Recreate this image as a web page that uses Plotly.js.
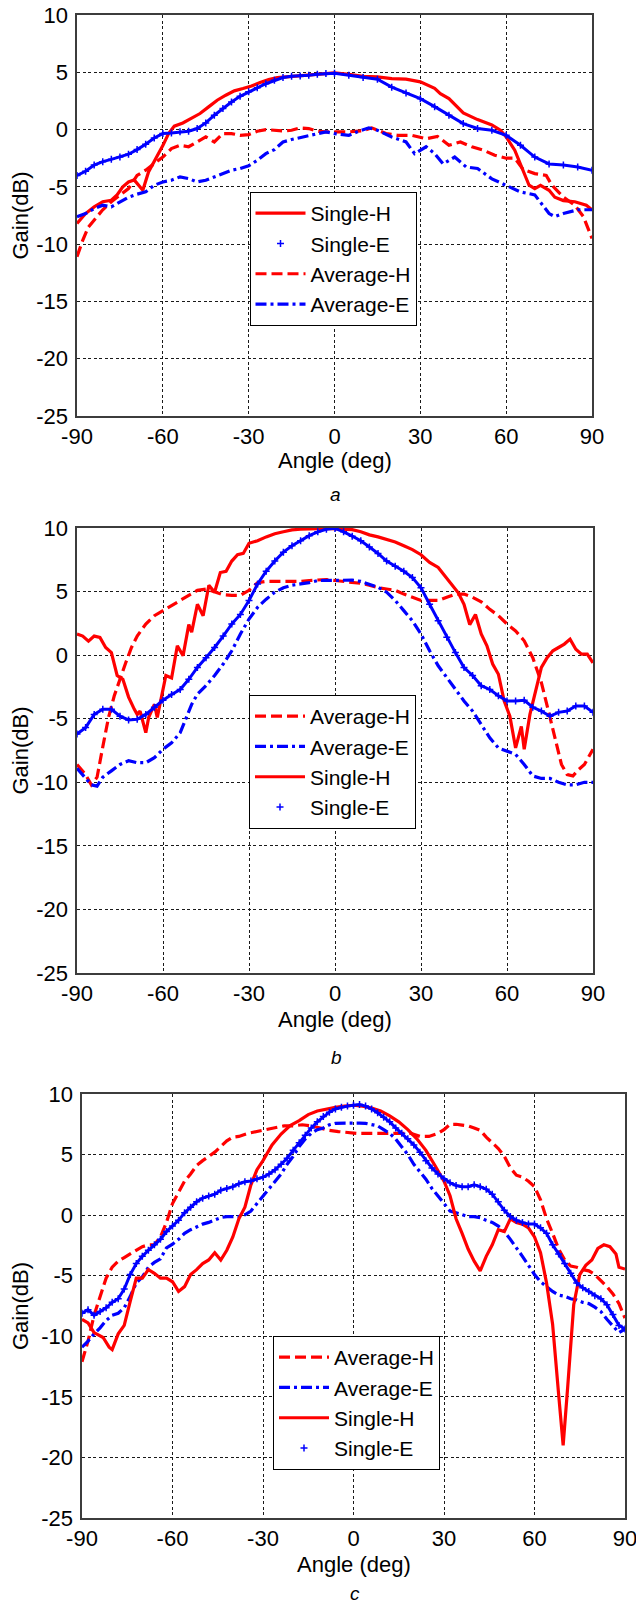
<!DOCTYPE html>
<html>
<head>
<meta charset="utf-8">
<script src="https://cdn.plot.ly/plotly-3.0.1.min.js"></script>
<style>
  html, body { margin: 0; padding: 0; background: #fff; }
  #chart { width: 636px; height: 1605px; }
</style>
</head>
<body>
<div id="chart"></div>
<script>
// ---------- ticks ----------
const X_TICKS = [-90, -60, -30, 0, 30, 60, 90];
const Y_TICKS = [-25, -20, -15, -10, -5, 0, 5, 10];
const PANEL_LABELS = ['a', 'b', 'c'];
const SERIES_NAMES = ['Single-H', 'Single-E', 'Average-H', 'Average-E'];

// ---------- panel a ----------
const a_SH_x = [-90,-87,-84,-81,-78,-76,-74,-72,-70,-67,-65,-63,-60,-58,-56,-53,-50,-47,-44,-41,-38,-35,-32,-29,-26,-23,-20,-17,-14,-11,-8,-5,-2,0,5,10,15,20,25,30,35,37,40,45,50,55,58,60,63,66,68,70,72,75,77,80,84,88,90];
const a_SH_y = [-8.2,-7.33,-6.75,-6.3,-6.17,-5.7,-5.0,-4.57,-4.4,-5.3,-3.7,-2.8,-1.4,-0.35,0.3,0.58,0.96,1.4,1.98,2.56,3.0,3.38,3.58,3.8,4.1,4.36,4.54,4.6,4.65,4.7,4.77,4.83,4.9,4.95,4.83,4.65,4.6,4.45,4.4,4.16,3.6,3.14,2.7,1.45,0.87,0.4,-0.05,-0.64,-1.8,-3.55,-4.86,-5.15,-4.86,-5.3,-5.9,-6.2,-6.3,-6.6,-7.0];
const a_SE_x = [-90,-87,-84,-81,-78,-75,-72,-69,-66,-63,-60,-57,-54,-51,-48,-45,-42,-39,-36,-33,-30,-27,-24,-21,-18,-15,-12,-9,-6,-3,0,5,10,15,20,25,30,35,40,45,50,55,60,65,70,75,80,85,90];
const a_SE_y = [-4.0,-3.64,-3.1,-2.8,-2.6,-2.4,-2.15,-1.75,-1.28,-0.73,-0.35,-0.3,-0.2,-0.15,0.09,0.58,1.25,1.83,2.4,2.9,3.3,3.64,4.0,4.3,4.54,4.65,4.68,4.74,4.83,4.9,4.92,4.74,4.54,4.4,3.7,3.2,2.7,2.0,1.25,0.52,0.09,-0.06,-0.5,-1.37,-2.4,-3.0,-3.1,-3.26,-3.55];
const a_AH_x = [-90,-88,-86,-84,-81,-78,-75,-72,-69,-66,-63,-60,-57,-54,-51,-48,-45,-42,-39,-36,-33,-30,-27,-24,-21,-18,-15,-12,-9,-6,-3,0,5,10,13,18,22,27,32,36,40,44,48,52,56,60,63,66,70,74,76,80,84,87,90];
const a_AH_y = [-11.1,-9.66,-8.5,-7.9,-7.0,-6.3,-5.7,-5.15,-4.0,-3.55,-2.97,-2.4,-1.66,-1.37,-1.5,-1.08,-0.64,-1.08,-0.35,-0.35,-0.5,-0.44,-0.15,0,-0.06,-0.12,-0.06,0.15,0.09,-0.15,-0.2,-0.2,-0.2,-0.1,0.15,-0.35,-0.5,-0.5,-0.8,-0.6,-1.37,-1.08,-1.5,-1.8,-2.24,-2.5,-2.5,-3.5,-3.84,-4.0,-4.86,-5.9,-6.6,-7.6,-9.5];
const a_AE_x = [-90,-87,-84,-81,-78,-75,-72,-69,-66,-63,-60,-57,-54,-51,-48,-45,-42,-39,-36,-33,-30,-27,-24,-21,-18,-15,-12,-9,-6,-3,0,5,8,12,15,20,25,28,32,35,38,42,46,50,55,60,65,70,75,77,80,85,90];
const a_AE_y = [-7.6,-7.33,-6.9,-6.6,-6.75,-6.3,-5.9,-5.64,-5.44,-4.86,-4.57,-4.42,-4.13,-4.28,-4.57,-4.42,-4.13,-3.9,-3.55,-3.4,-3.17,-2.68,-2.1,-1.75,-1.08,-0.87,-0.7,-0.58,-0.35,-0.2,-0.35,-0.5,-0.2,0.15,-0.06,-0.64,-1.08,-2.1,-1.5,-2.1,-3.0,-2.4,-3.26,-3.4,-4.3,-4.86,-5.44,-5.7,-7.33,-7.6,-7.33,-7.0,-7.0];

// ---------- panel b ----------
const b_SH_x = [-90,-88,-86,-84,-82,-80,-78,-76,-74,-72,-70,-69,-68,-66,-65,-63,-62,-59,-57,-55,-53,-51,-50,-48,-46,-44,-42,-40,-38,-36,-34,-32,-30,-27,-24,-21,-18,-15,-12,-9,-6,-3,0,3,6,9,12,15,18,21,24,27,30,33,36,39,41,43,45,47,49,51,53,55,57,59,61,63,65,66,68,70,72,74,76,78,80,82,84,86,88,90];
const b_SH_y = [1.66,1.5,1.1,1.5,1.4,0.6,0.2,-1.6,-1.9,-3.3,-4.26,-4.66,-4.4,-6.1,-4.9,-3.87,-4.9,-1.6,-1.8,0.74,-0.05,2.4,1.8,4.0,3.1,5.5,4.95,6.5,6.6,7.4,7.9,8.0,8.8,9.0,9.3,9.55,9.7,9.85,9.9,9.95,9.95,9.97,9.95,9.9,9.87,9.7,9.46,9.3,9.1,8.9,8.6,8.3,7.9,7.3,6.9,6.0,5.5,4.9,4.0,2.4,3.2,1.66,0.74,-0.7,-1.5,-3.6,-4.8,-7.3,-5.6,-7.4,-4.66,-2.8,-0.97,-0.2,0.34,0.6,0.87,1.26,0.47,0.08,0.08,-0.6];
const b_SE_x = [-90,-87,-84,-81,-78,-75,-72,-69,-66,-63,-60,-57,-54,-51,-48,-45,-42,-39,-36,-33,-30,-27,-24,-21,-18,-15,-12,-9,-6,-3,0,3,6,9,12,15,18,21,24,27,30,33,36,39,42,45,48,51,54,57,60,63,66,69,72,75,78,81,84,87,90];
const b_SE_y = [-6.2,-5.7,-4.66,-4.26,-4.26,-4.8,-5.1,-5.05,-4.66,-4.1,-3.55,-3.1,-2.7,-1.9,-0.97,-0.2,0.6,1.5,2.45,3.2,4.3,5.6,6.6,7.4,8.1,8.6,9.0,9.4,9.7,9.9,9.97,9.7,9.36,9.0,8.5,8.0,7.4,7.0,6.6,6.1,5.3,4.0,2.7,1.4,0.2,-0.97,-1.6,-2.4,-2.7,-3.2,-3.6,-3.6,-3.55,-4.1,-4.4,-4.8,-4.5,-4.4,-4.0,-4.0,-4.5];
const b_AH_x = [-90,-87,-85,-83,-81,-79,-77,-75,-73,-71,-69,-66,-63,-60,-57,-54,-51,-48,-45,-42,-39,-36,-33,-30,-27,-24,-21,-18,-15,-12,-9,-6,-3,0,3,6,9,12,15,18,21,24,27,30,33,36,39,42,45,48,51,54,57,60,63,66,69,72,75,77,79,81,83,85,87,90];
const b_AH_y = [-8.6,-9.4,-10.2,-9.6,-7.2,-4.9,-3.2,-1.8,-0.6,0.6,1.5,2.45,3.1,3.5,3.9,4.3,4.7,5.1,5.2,4.95,4.75,4.7,4.7,5.1,5.7,5.8,5.8,5.8,5.8,5.8,5.87,5.9,5.95,5.87,5.8,5.7,5.65,5.5,5.3,5.2,5.1,4.8,4.55,4.3,4.3,4.3,4.55,4.8,4.8,4.55,4.2,3.6,3.1,2.45,1.9,1.13,-0.2,-2.16,-4.9,-6.76,-8.6,-9.4,-9.5,-9.0,-8.6,-7.4];
const b_AE_x = [-90,-87,-85,-83,-81,-78,-75,-72,-69,-66,-63,-60,-57,-54,-52,-50,-48,-45,-42,-39,-36,-33,-30,-27,-24,-21,-18,-15,-12,-9,-6,-3,0,3,6,9,12,15,18,21,24,27,30,33,36,39,42,45,48,51,54,57,60,63,66,69,72,75,78,81,84,87,90];
const b_AE_y = [-8.9,-9.7,-10.2,-10.3,-9.6,-9.1,-8.6,-8.3,-8.46,-8.46,-8.07,-7.4,-6.9,-6.1,-4.9,-3.87,-3.07,-2.4,-1.6,-0.7,0.34,1.66,2.84,3.76,4.4,4.95,5.3,5.5,5.6,5.7,5.87,5.87,5.87,5.87,5.9,5.8,5.6,5.34,4.95,4.3,3.5,2.7,1.66,0.34,-0.84,-1.76,-2.68,-3.6,-4.4,-5.4,-6.5,-7.3,-7.55,-7.8,-8.6,-9.5,-9.7,-9.7,-10.0,-10.2,-10.2,-10.0,-10.0];

// ---------- panel c ----------
const c_SH_x = [-90,-88,-86,-83,-81,-80,-78,-76,-74,-72,-70,-68,-66,-64,-62,-60,-58,-56,-54,-52,-50,-48,-46,-44,-42,-40,-38,-36,-34,-32,-30,-27,-24,-21,-18,-15,-12,-9,-6,-3,0,3,6,9,12,15,18,21,24,27,30,32,34,36,38,40,42,44,46,48,50,52,54,56,58,60,62,64,66,68,69.5,71,72,73,75,77,79,81,83,85,87,88,90];
const c_SH_y = [-8.6,-8.9,-9.7,-10.1,-10.9,-11.1,-9.8,-9.1,-7.1,-5.2,-5.2,-4.5,-4.8,-5.2,-5.2,-5.5,-6.3,-5.9,-4.9,-4.5,-4.0,-3.7,-3.1,-3.7,-2.9,-1.8,-0.3,0.65,2.5,3.75,4.5,5.8,6.7,7.4,7.8,8.3,8.6,8.76,8.9,9.0,9.07,9.0,8.85,8.6,8.2,7.7,7.06,6.3,5.35,4.1,2.8,1.6,-0.3,-1.5,-2.8,-3.8,-4.6,-3.4,-2.45,-1.2,-1.36,-0.3,-0.6,-0.75,-1.05,-1.8,-3.1,-5.6,-9.0,-14.8,-19.0,-14.2,-10.8,-7.4,-4.9,-4.15,-3.7,-2.75,-2.45,-2.6,-3.2,-4.3,-4.45];
const c_SE_x = [-90,-88,-86,-84,-82,-80,-78,-76,-74,-72,-70,-68,-66,-64,-62,-60,-58,-56,-54,-52,-50,-48,-46,-44,-42,-40,-38,-36,-34,-32,-30,-28,-26,-24,-22,-20,-18,-16,-14,-12,-10,-8,-6,-4,-2,0,2,4,6,8,10,12,14,16,18,20,22,24,26,28,30,32,34,36,38,40,42,44,46,48,50,52,54,56,58,60,62,64,66,68,70,72,74,76,78,80,82,84,86,88,90];
const c_SE_y = [-8.1,-7.8,-8.27,-7.96,-7.65,-7.2,-6.9,-6.1,-4.9,-4.0,-3.4,-2.9,-2.45,-2.0,-1.36,-0.9,-0.43,0.19,0.65,1.1,1.4,1.58,1.73,2.05,2.2,2.35,2.6,2.76,2.82,3.0,3.13,3.4,3.75,4.2,4.7,5.35,5.97,6.6,7.2,7.7,8.14,8.5,8.76,8.9,9.0,9.07,9.13,9.0,8.76,8.45,8.08,7.7,7.2,6.75,6.3,5.8,5.2,4.5,3.9,3.4,3.0,2.67,2.45,2.35,2.35,2.5,2.35,2.14,1.73,1.1,0.4,-0.12,-0.43,-0.6,-0.74,-0.74,-1.05,-1.5,-2.45,-3.2,-4.0,-4.8,-5.6,-6.0,-6.3,-6.65,-6.9,-7.4,-8.2,-9.1,-9.4];
const c_AH_x = [-90,-88,-86,-84,-82,-80,-78,-76,-74,-72,-70,-68,-66,-64,-62,-60,-58,-56,-54,-52,-50,-48,-46,-44,-42,-40,-38,-35,-32,-29,-26,-23,-20,-17,-14,-11,-8,-5,-2,1,4,7,10,13,16,19,22,25,28,30,32,34,36,38,40,42,44,46,48,50,52,54,56,58,60,62,64,66,68,70,72,74,76,78,80,82,84,86,88,90];
const c_AH_y = [-12.1,-10.4,-8.27,-6.7,-5.2,-4.3,-3.8,-3.5,-3.2,-2.9,-2.6,-2.45,-2.45,-1.8,-0.6,0.96,1.9,2.8,3.4,4.1,4.5,4.85,5.2,5.66,6.13,6.44,6.5,6.75,6.9,7.06,7.2,7.37,7.37,7.46,7.37,7.2,7.0,6.9,6.8,6.75,6.75,6.75,6.75,6.75,6.8,6.75,6.5,6.5,6.75,7.06,7.5,7.5,7.43,7.37,7.2,7.0,6.44,5.97,5.5,4.85,3.9,3.3,3.13,2.8,2.35,1.27,-0.3,-1.5,-2.8,-3.7,-4.2,-4.3,-4.5,-4.6,-4.9,-5.4,-5.9,-6.5,-7.3,-8.5];
const c_AE_x = [-90,-88,-86,-84,-82,-80,-78,-76,-74,-72,-70,-68,-66,-64,-62,-60,-58,-56,-54,-52,-50,-48,-46,-44,-42,-40,-38,-36,-34,-32,-30,-28,-26,-24,-22,-20,-18,-16,-14,-12,-10,-8,-6,-4,-2,0,2,4,6,8,10,12,14,16,18,20,22,24,26,28,30,32,34,36,38,40,42,44,46,48,50,52,54,56,58,60,62,64,66,68,70,72,74,76,78,80,82,84,86,88,90];
const c_AE_y = [-10.9,-10.4,-9.8,-9.3,-8.7,-8.27,-8.1,-7.65,-6.7,-5.6,-5.1,-4.3,-3.9,-3.6,-2.7,-2.4,-2.0,-1.5,-1.2,-0.96,-0.74,-0.6,-0.37,-0.2,-0.12,-0.12,-0.12,0.03,0.34,0.96,1.58,2.2,2.8,3.4,4.2,4.85,5.66,6.28,6.75,7.06,7.2,7.46,7.58,7.6,7.6,7.6,7.6,7.58,7.5,7.37,7.06,6.75,6.28,5.66,5.0,4.2,3.6,2.97,2.2,1.58,0.96,0.34,0.19,0.03,-0.12,-0.12,-0.2,-0.43,-0.6,-0.9,-1.36,-2.0,-2.76,-3.4,-4.15,-4.9,-5.5,-5.9,-6.3,-6.6,-6.7,-6.9,-7.0,-7.2,-7.3,-7.6,-7.96,-8.6,-9.2,-9.7,-9.4];

// ---------- styling (not data) ----------
const W = 636, H = 1605;
const FONT = '"Liberation Sans", Arial, Helvetica, sans-serif';
const RED = '#ff0000', BLUE = '#0000ff';
// pixel boxes of each plot area: [left, right, top, bottom]
const BOX = [[77, 592, 15, 416], [77, 593, 528, 973], [82, 625, 1094, 1518]];
const px = x => x / W;
const py = y => 1 - y / H;

const panels = [
  { SH: [a_SH_x, a_SH_y], SE: [a_SE_x, a_SE_y], AH: [a_AH_x, a_AH_y], AE: [a_AE_x, a_AE_y],
    order: ['SH', 'SE', 'AH', 'AE'], legendBox: [249.5, 192], xt: 460, lab: 494 },
  { SH: [b_SH_x, b_SH_y], SE: [b_SE_x, b_SE_y], AH: [b_AH_x, b_AH_y], AE: [b_AE_x, b_AE_y],
    order: ['AH', 'AE', 'SH', 'SE'], legendBox: [249, 695], xt: 1019, lab: 1057 },
  { SH: [c_SH_x, c_SH_y], SE: [c_SE_x, c_SE_y], AH: [c_AH_x, c_AH_y], AE: [c_AE_x, c_AE_y],
    order: ['AH', 'AE', 'SH', 'SE'], legendBox: [273, 1336], xt: 1564, lab: 1593 }
];
const NAME = { SH: SERIES_NAMES[0], SE: SERIES_NAMES[1], AH: SERIES_NAMES[2], AE: SERIES_NAMES[3] };

const traces = [];
const layout = {
  width: W, height: H,
  margin: { l: 0, r: 0, t: 0, b: 0 },
  paper_bgcolor: '#ffffff', plot_bgcolor: '#ffffff',
  font: { family: FONT, size: 22, color: '#000' },
  annotations: [],
  showlegend: true
};

panels.forEach((p, i) => {
  const n = i === 0 ? '' : String(i + 1);
  const xa = 'x' + n, ya = 'y' + n;
  const lg = 'legend' + n;
  const [l, r, t, b] = BOX[i];
  const common = {
    showgrid: true, gridcolor: '#1a1a1a', gridwidth: 1, griddash: '3px,2.5px',
    showline: true, linecolor: '#3c3c3c', linewidth: 1.6, mirror: true,
    zeroline: false, ticks: '', tickmode: 'array', fixedrange: true,
    tickfont: { family: FONT, size: 22, color: '#000' }
  };
  layout['xaxis' + n] = Object.assign({}, common, {
    domain: [px(l), px(r)], anchor: ya, range: [-90, 90],
    tickvals: X_TICKS, ticktext: X_TICKS.map(String), ticklabelstandoff: 0,
    ticklabeloverflow: 'allow'
  });
  layout['yaxis' + n] = Object.assign({}, common, {
    domain: [py(b), py(t)], anchor: xa, range: [-25, 10],
    tickvals: Y_TICKS, ticktext: Y_TICKS.map(String), ticklabelstandoff: 3,
    ticklabeloverflow: 'allow'
  });
  layout[lg] = {
    x: px(p.legendBox[0]), y: py(p.legendBox[1]), xanchor: 'left', yanchor: 'top',
    bgcolor: '#ffffff', bordercolor: '#000', borderwidth: 1,
    font: { family: FONT, size: 21, color: '#000' },
    itemwidth: 50, traceorder: 'normal', tracegroupgap: 0
  };

  p.order.forEach(key => {
    const [xs, ys] = p[key];
    const base = { x: xs, y: ys, xaxis: xa, yaxis: ya, legend: lg, name: NAME[key], hoverinfo: 'skip' };
    if (key === 'SH') {
      traces.push(Object.assign({}, base, { mode: 'lines', line: { color: RED, width: 3.2 } }));
    } else if (key === 'AH') {
      traces.push(Object.assign({}, base, { mode: 'lines', line: { color: RED, width: 3.2, dash: '11px,5px' } }));
    } else if (key === 'AE') {
      traces.push(Object.assign({}, base, { mode: 'lines', line: { color: BLUE, width: 3.2, dash: '11px,4px,3px,4px' } }));
    } else {
      // Single-E: dense "+" markers along a line
      traces.push(Object.assign({}, base, { mode: 'lines', showlegend: false, line: { color: BLUE, width: 3 } }));
      traces.push(Object.assign({}, base, {
        mode: 'markers',
        marker: { symbol: 'cross-thin', size: 5, color: BLUE, line: { color: BLUE, width: 1.5 } }
      }));
    }
  });

  // axis titles and panel labels
  layout.annotations.push({
    xref: 'paper', yref: 'paper', x: px(20), y: py((t + b) / 2), text: 'Gain(dB)',
    textangle: -90, showarrow: false, xanchor: 'center', yanchor: 'middle',
    font: { family: FONT, size: 22, color: '#000' }
  });
  layout.annotations.push({
    xref: 'paper', yref: 'paper', x: px((l + r) / 2), y: py(p.xt), text: 'Angle (deg)',
    showarrow: false, xanchor: 'center', yanchor: 'middle',
    font: { family: FONT, size: 22, color: '#000' }
  });
  layout.annotations.push({
    xref: 'paper', yref: 'paper', x: px((l + r) / 2 + 1), y: py(p.lab), text: '<i>' + PANEL_LABELS[i] + '</i>',
    showarrow: false, xanchor: 'center', yanchor: 'middle',
    font: { family: FONT, size: 19, color: '#000' }
  });
});

Plotly.newPlot('chart', traces, layout, { staticPlot: true, displayModeBar: false });
</script>
</body>
</html>
